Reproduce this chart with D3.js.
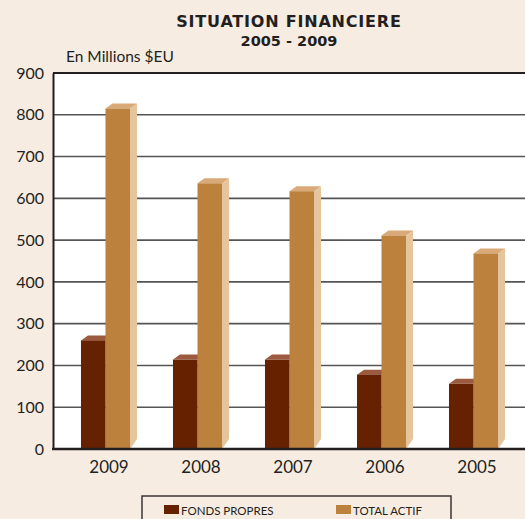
<!DOCTYPE html>
<html>
<head>
<meta charset="utf-8">
<script src="https://cdn.jsdelivr.net/npm/d3@7"></script>
<style>
  body { margin: 0; background: #f6ece2; }
  svg { display: block; font-family: Lato, "DejaVu Sans", sans-serif; }
</style>
</head>
<body>
<div id="graph"></div>
<script>
const years = ["2009", "2008", "2007", "2006", "2005"];
const fondsPropres = [260, 214, 214, 178, 156];
const totalActif = [815, 636, 617, 511, 468];
const seriesNames = ["FONDS PROPRES", "TOTAL ACTIF"];
const yTicks = [0, 100, 200, 300, 400, 500, 600, 700, 800, 900];

const W = 525, H = 519;
const plot = {left: 53, top: 73, right: 526, bottom: 449};

// colours per series: front, top, side
const colors = [
  {front: "#662200", top: "#9c5a3e", side: "#8a4a2e"},
  {front: "#bc813d", top: "#d9aa78", side: "#e5c59e"}
];
const dx = 7, dy = 5;

const svg = d3.select("#graph")
  .append("svg")
  .attr("width", W)
  .attr("height", H);

svg.append("rect")
  .attr("width", W).attr("height", H)
  .attr("fill", "#f6ece2");

// title
svg.append("text")
  .attr("x", 289).attr("y", 27)
  .attr("text-anchor", "middle")
  .style("font-family", "'DejaVu Sans', sans-serif")
  .style("font-weight", "bold")
  .style("font-size", "16px")
  .style("letter-spacing", "0.8px")
  .attr("fill", "#231f20")
  .text("SITUATION FINANCIERE");

svg.append("text")
  .attr("x", 289).attr("y", 46)
  .attr("text-anchor", "middle")
  .style("font-family", "'DejaVu Sans', sans-serif")
  .style("font-weight", "bold")
  .style("font-size", "14.5px")
  .attr("fill", "#231f20")
  .text("2005 - 2009");

svg.append("text")
  .attr("x", 66).attr("y", 62)
  .style("font-size", "15.5px")
  .attr("fill", "#231f20")
  .text("En Millions $EU");

// scales
const y = d3.scaleLinear()
  .domain([0, 900])
  .range([plot.bottom, plot.top]);

const x = d3.scaleBand()
  .domain(years)
  .range([plot.left, plot.right])
  .paddingInner(0.467)
  .paddingOuter(0.304);

const xs = d3.scaleBand()
  .domain([0, 1])
  .range([0, x.bandwidth()]);

// plot background
svg.append("rect")
  .attr("x", plot.left).attr("y", plot.top)
  .attr("width", W - plot.left).attr("height", plot.bottom - plot.top)
  .attr("fill", "#ffffff");

// gridlines
svg.append("g")
  .selectAll("line")
  .data(yTicks.filter(d => d > 0))
  .join("line")
  .attr("x1", plot.left).attr("x2", W)
  .attr("y1", d => y(d)).attr("y2", d => y(d))
  .attr("stroke", d => d === 900 ? "#231f20" : "#555555")
  .attr("stroke-width", d => d === 900 ? 2 : 1.6);

// y axis
const yAxis = svg.append("g")
  .attr("transform", `translate(${plot.left},0)`)
  .call(d3.axisLeft(y).tickValues(yTicks).tickSize(0).tickPadding(9));
yAxis.select(".domain").attr("stroke", "#231f20").attr("stroke-width", 2);
yAxis.selectAll("text")
  .style("font-size", "16px")
  .style("font-family", "Lato, sans-serif")
  .attr("fill", "#231f20");

// bars
const data = years.map((yr, i) => ({year: yr, values: [fondsPropres[i], totalActif[i]]}));

const groups = svg.append("g")
  .selectAll("g")
  .data(data)
  .join("g")
  .attr("transform", d => `translate(${x(d.year)},0)`);

[0, 1].forEach(s => {
  const bx = xs(s), bw = xs.bandwidth();
  // side face
  groups.append("path")
    .attr("d", d => {
      const x1 = bx + bw, yt = y(d.values[s]), y0 = y(0);
      return `M${x1},${yt}L${x1 + dx},${yt - dy}L${x1 + dx},${y0 - dy * 2}L${x1},${y0}Z`;
    })
    .attr("fill", colors[s].side);
  // top face
  groups.append("path")
    .attr("d", d => {
      const yt = y(d.values[s]);
      return `M${bx},${yt}L${bx + dx},${yt - dy}L${bx + bw + dx},${yt - dy}L${bx + bw},${yt}Z`;
    })
    .attr("fill", colors[s].top);
  // front face
  groups.append("rect")
    .attr("x", bx)
    .attr("y", d => y(d.values[s]))
    .attr("width", bw)
    .attr("height", d => y(0) - y(d.values[s]))
    .attr("fill", colors[s].front);
});

// x axis
const xAxis = svg.append("g")
  .attr("transform", `translate(0,${plot.bottom})`)
  .call(d3.axisBottom(x).tickSize(0).tickPadding(12));
xAxis.select(".domain").remove();
xAxis.selectAll(".tick").attr("transform", d => `translate(${x(d) + (x.bandwidth() + dx) / 2},0)`);
xAxis.selectAll("text")
  .style("font-size", "17px")
  .style("font-family", "Lato, sans-serif")
  .attr("fill", "#231f20");

svg.append("line")
  .attr("x1", plot.left - 1).attr("x2", W)
  .attr("y1", plot.bottom).attr("y2", plot.bottom)
  .attr("stroke", "#231f20")
  .attr("stroke-width", 2.5);

// legend
const legend = svg.append("g");
legend.append("rect")
  .attr("x", 142).attr("y", 496)
  .attr("width", 309).attr("height", 30)
  .attr("fill", "none")
  .attr("stroke", "#3a3436")
  .attr("stroke-width", 1.5);

const legendX = [164, 336];
seriesNames.forEach((name, i) => {
  legend.append("rect")
    .attr("x", legendX[i]).attr("y", 505)
    .attr("width", 15).attr("height", 9)
    .attr("fill", colors[i].front);
  legend.append("text")
    .attr("x", legendX[i] + 17).attr("y", 514.5)
    .style("font-size", "11.5px")
    .attr("fill", "#231f20")
    .text(name);
});
</script>
</body>
</html>
